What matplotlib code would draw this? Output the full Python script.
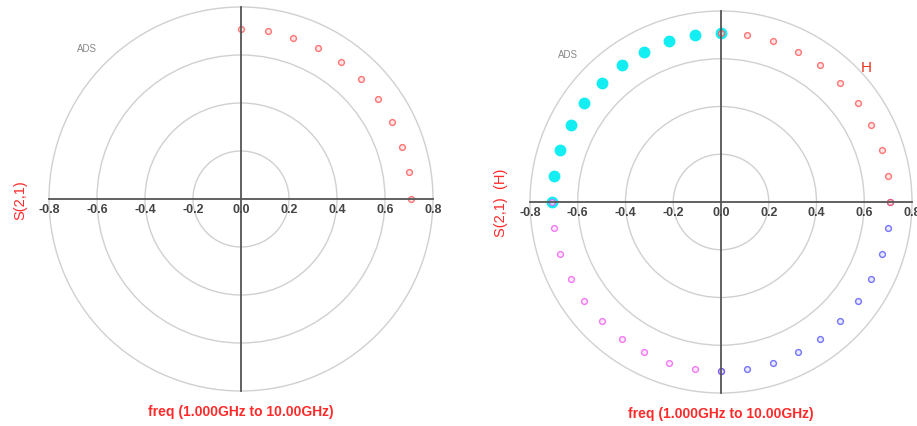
import numpy as np
import matplotlib
matplotlib.use("Agg")
import matplotlib.pyplot as plt
from matplotlib.patches import Circle

plt.rcParams['font.family'] = ['Liberation Sans', 'DejaVu Sans']

# S(2,1) of a 4-state phase shifter, 1 GHz to 10 GHz in 0.9 GHz steps
freq_ghz = [1.0, 1.9, 2.8, 3.7, 4.6, 5.5, 6.4, 7.3, 8.2, 9.1, 10.0]
mag = [0.707, 0.707, 0.707, 0.707, 0.707, 0.707, 0.707, 0.707, 0.707, 0.707, 0.707]

# phase in degrees for each state
phase_s21 = [90, 81, 72, 63, 54, 45, 36, 27, 18, 9, 0]
phase_h1 = [90, 81, 72, 63, 54, 45, 36, 27, 18, 9, 0]
phase_h2 = [0, -9, -18, -27, -36, -45, -54, -63, -72, -81, -90]
phase_h3 = [-90, -99, -108, -117, -126, -135, -144, -153, -162, -171, -180]
phase_h4 = [180, 171, 162, 153, 144, 135, 126, 117, 108, 99, 90]

rings = [0.2, 0.4, 0.6, 0.8]
tick_vals = [-0.8, -0.6, -0.4, -0.2, 0.0, 0.2, 0.4, 0.6, 0.8]

RED = '#ff2a2a'


def to_xy(m, ph):
    a = np.deg2rad(np.array(ph, dtype=float))
    m = np.array(m)
    return m * np.cos(a), m * np.sin(a)


def polar_frame(ax, ylabel, ads_xy, label_y):
    for r in rings:
        ax.add_patch(Circle((0, 0), r, fill=False, ec='#d0d0d0', lw=1.0, zorder=1))
    ax.plot([-0.8, 0.8], [0, 0], color='#555555', lw=1.3, zorder=5)
    ax.plot([0, 0], [-0.8, 0.8], color='#555555', lw=1.3, zorder=5)
    for t in tick_vals:
        ax.text(t, -0.04, '%.1f' % t, ha='center', va='center', fontsize=9,
                color='#444444', fontweight='bold', zorder=6)
    ax.text(ads_xy[0], ads_xy[1], 'ADS', ha='center', va='center', fontsize=7,
            color='#888888')
    ax.text(-0.92, 0.0, ylabel, rotation=90, ha='center', va='center',
            fontsize=10.5, color=RED)
    ax.text(0.0, label_y, 'freq (1.000GHz to 10.00GHz)', ha='center', va='center',
            fontsize=10, color=RED, fontweight='bold')
    ax.axis('off')


def open_pts(ax, ph, color, face):
    x, y = to_xy(mag, ph)
    ax.plot(x, y, 'o', ms=4.2, mfc=face, mec=color, mew=1.0, alpha=0.75, zorder=4)


fig = plt.figure(figsize=(9.17, 4.27), dpi=100)
W, H = 917.0, 427.0

# left chart: centre at (241, 200) px, 240 px per unit
s = 240.0
ax1 = fig.add_axes([0, 0, 460 / W, 1])
ax1.set_xlim(-241 / s, (460 - 241) / s)
ax1.set_ylim(-227 / s, 200 / s)
polar_frame(ax1, 'S(2,1)', (-0.64, 0.63), -0.885)
open_pts(ax1, phase_s21, '#ff4a4a', '#ffe0e0')

# right chart: centre at (721, 203) px
s2 = 238.75
ax2 = fig.add_axes([470 / W, 0, 447 / W, 1])
ax2.set_xlim((470 - 721) / s2, (917 - 721) / s2)
ax2.set_ylim(-224 / s2, 203 / s2)
polar_frame(ax2, 'S(2,1)  (H)', (-0.64, 0.62), -0.885)
x4, y4 = to_xy(mag, phase_h4)
ax2.plot(x4, y4, 'o', ms=7.5, color='#12eef2', mec='#12eef2', zorder=3)
open_pts(ax2, phase_h3, '#f050f0', '#ffe4ff')
open_pts(ax2, phase_h2, '#4a4aff', '#e4e4ff')
open_pts(ax2, phase_h1, '#ff4a4a', '#ffe0e0')
ax2.text(0.61, 0.565, 'H', ha='center', va='center', fontsize=11, color='#e8351f')

fig.savefig('out.png', dpi=100, facecolor='white')
